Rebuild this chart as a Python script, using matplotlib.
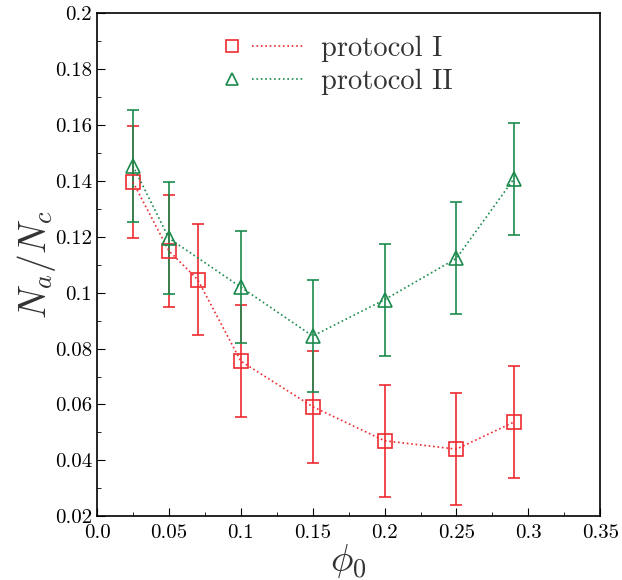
import matplotlib
matplotlib.use("Agg")
import matplotlib.pyplot as plt
from matplotlib.ticker import MultipleLocator
from matplotlib.lines import Line2D
from matplotlib.legend_handler import HandlerBase

plt.rcParams['mathtext.fontset'] = 'cm'
plt.rcParams['font.family'] = 'serif'
plt.rcParams['font.serif'] = ['cmr10', 'DejaVu Serif']
plt.rcParams['axes.unicode_minus'] = False

phi1 = [0.025, 0.05, 0.07, 0.1, 0.15, 0.2, 0.25, 0.29]
na1 = [0.1396, 0.115, 0.1047, 0.0755, 0.0592, 0.0470, 0.0440, 0.0537]
err1 = [0.02, 0.02, 0.02, 0.02, 0.02, 0.02, 0.02, 0.02]

phi2 = [0.025, 0.05, 0.1, 0.15, 0.2, 0.25, 0.29]
na2 = [0.1454, 0.1195, 0.1020, 0.0845, 0.0975, 0.1123, 0.1408]
err2 = [0.02, 0.02, 0.02, 0.02, 0.02, 0.02, 0.02]

xticks = [0.0, 0.05, 0.1, 0.15, 0.2, 0.25, 0.3, 0.35]
xticklabels = ["0.0", "0.05", "0.1", "0.15", "0.2", "0.25", "0.3", "0.35"]
yticks = [0.02, 0.04, 0.06, 0.08, 0.1, 0.12, 0.14, 0.16, 0.18, 0.2]
yticklabels = ["0.02", "0.04", "0.06", "0.08", "0.1", "0.12", "0.14", "0.16", "0.18", "0.2"]

red = '#ee2b30'
green = '#1b8a4c'


class MarkerLeftHandler(HandlerBase):
    def create_artists(self, legend, orig_handle, xdescent, ydescent,
                       width, height, fontsize, trans):
        y = height / 2 - ydescent
        x0 = -xdescent
        c = orig_handle.get_color()
        mk = Line2D([x0 + 7], [y], marker=orig_handle.get_marker(), ms=9,
                    mfc='none', mec=c, mew=1.2, ls='none', transform=trans)
        ln = Line2D([x0 + 21, x0 + width], [y, y], color=c, ls=':', lw=1.2,
                    transform=trans)
        return [mk, ln]


fig = plt.figure(figsize=(6.22, 5.8), dpi=100)
ax = fig.add_axes([0.156, 0.110, 0.809, 0.867])

ax.errorbar(phi1, na1, yerr=err1, color=red, ls=':', lw=1.2, marker='s',
            ms=10, mfc='none', mec=red, mew=1.2, capsize=4, elinewidth=1.2,
            capthick=1.2)
ax.errorbar(phi2, na2, yerr=err2, color=green, ls=':', lw=1.2, marker='^',
            ms=10, mfc='none', mec=green, mew=1.2, capsize=4, elinewidth=1.2,
            capthick=1.2)

ax.set_xlim(0, 0.35)
ax.set_ylim(0.02, 0.2)
ax.set_xticks(xticks)
ax.set_xticklabels(xticklabels)
ax.set_yticks(yticks)
ax.set_yticklabels(yticklabels)
ax.xaxis.set_minor_locator(MultipleLocator(0.025))
ax.yaxis.set_minor_locator(MultipleLocator(0.01))
ax.tick_params(which='both', direction='in', top=False, right=False, labelsize=15)
ax.tick_params(axis='x', which='major', pad=6)
ax.tick_params(which='major', length=6)
ax.tick_params(which='minor', length=3)
for s in ax.spines.values():
    s.set_linewidth(1.2)

ax.set_xlabel(r'$\phi_0$', fontsize=27, color='#333333', labelpad=0)
ax.set_ylabel(r'$N_a/N_c$', fontsize=27, color='#333333', labelpad=-2)

h1 = Line2D([], [], color=red, marker='s')
h2 = Line2D([], [], color=green, marker='^')
leg = ax.legend([h1, h2], ['protocol I', 'protocol II'],
                handler_map={Line2D: MarkerLeftHandler()},
                loc='upper left', bbox_to_anchor=(0.21, 0.995), frameon=False,
                fontsize=20.5, handlelength=2.9, handletextpad=0.55,
                labelspacing=0.22, borderpad=0.2)
for t in leg.get_texts():
    t.set_color('#333333')

fig.savefig('out.png', dpi=100)
